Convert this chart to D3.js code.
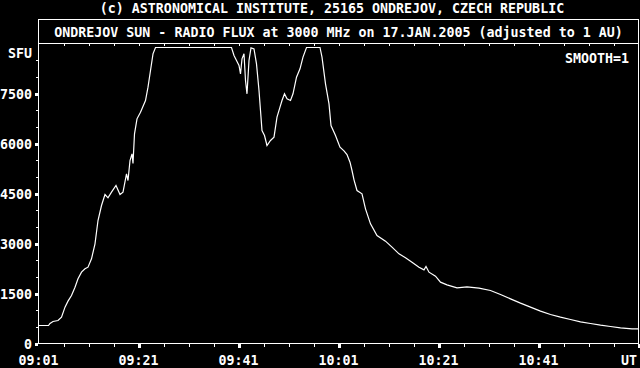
<!DOCTYPE html>
<html>
<head>
<meta charset="utf-8">
<script src="https://cdn.jsdelivr.net/npm/d3@7"></script>
<style>
  body { margin: 0; background: #000; }
  text { font-family: "DejaVu Sans Mono", "Liberation Mono", monospace; font-weight: bold; font-size: 13.3px; fill: #fff; }
</style>
</head>
<body>
<script>
// minutes after 09:01 UT and flux in SFU
var minutes = [0, 2, 2.3, 2.9, 3.9, 4.6, 5.3, 5.9, 6.6, 7.3, 7.9, 8.6, 9.3, 9.9, 10.6, 11.3, 11.9, 12.6, 13.3, 13.9,
  14.6, 15.5, 16.3, 16.9, 17.6, 17.9, 18.3, 18.7, 18.9, 19.2, 19.7, 20.4, 21.4, 21.9, 22.4, 22.9, 23.4, 38.6,
  39.1, 39.6, 40.1, 40.4, 40.7, 41.1, 41.4, 41.7, 42.1, 42.5, 43.1, 43.6, 44.1, 44.4, 44.7, 45.2, 45.7, 46.4,
  47.1, 47.7, 48.3, 48.7, 49.2, 49.7, 50.4, 50.9, 51.6, 52.3, 52.9, 53.6, 56.3, 56.7, 57.4, 58.1, 58.5, 59.4,
  60.3, 61.1, 61.7, 62.3, 62.7, 63.1, 63.7, 64.7, 65.4, 66.4, 67.7, 69.4, 70.7, 72.1, 73.4, 74.7, 76.1, 77.1,
  77.5, 78.1, 79.4, 80.4, 81.7, 83.7, 85.7, 88.1, 90.4, 92.4, 94.4, 96.4, 98.4, 100.4, 102.4, 104.4, 106.4,
  108.4, 110.4, 112.4, 114.4, 116.4, 118.7, 120];
var flux = [540, 540, 600, 660, 690, 790, 1090, 1270, 1440, 1690, 1940, 2140, 2240, 2290, 2540, 2990, 3690, 4140, 4470, 4370,
  4540, 4740, 4470, 4540, 5090, 4890, 5490, 5690, 5400, 6290, 6740, 6940, 7290, 7690, 8190, 8690, 8880, 8880,
  8640, 8490, 8340, 8090, 8540, 8690, 7890, 7490, 8490, 8870, 8840, 8390, 7590, 6990, 6390, 6240, 5940, 6090,
  6190, 6790, 7090, 7290, 7490, 7340, 7290, 7490, 7990, 8240, 8590, 8880, 8880, 8590, 7790, 7190, 6540, 6240,
  5890, 5780, 5670, 5440, 5190, 4910, 4590, 4490, 4040, 3590, 3240, 3070, 2890, 2690, 2570, 2440, 2290, 2210,
  2310, 2140, 2020, 1840, 1760, 1670, 1700, 1660, 1590, 1470, 1340, 1210, 1090, 970, 870, 790, 720,
  650, 600, 550, 510, 470, 440, 440];

var yMajor = [0, 1500, 3000, 4500, 6000, 7500];
var xMajor = [0, 20, 40, 60, 80, 100];
var xLabels = ["09:01", "09:21", "09:41", "10:01", "10:21", "10:41"];

var titleTop = "(c) ASTRONOMICAL INSTITUTE, 25165 ONDREJOV, CZECH REPUBLIC";
var titleBox = "ONDREJOV SUN - RADIO FLUX at 3000 MHz on 17.JAN.2005 (adjusted to 1 AU)";

var svg = d3.select("body").append("svg").attr("width", 640).attr("height", 368)
  .style("background", "#000");

var x = d3.scaleLinear().domain([0, 120]).range([38.5, 638.5]);
var y = d3.scaleLinear().domain([0, 9000]).range([343.5, 43.5]);

//frame and title box
var frame = svg.append("g").attr("shape-rendering", "crispEdges")
  .attr("stroke", "#fff").attr("fill", "none");
frame.append("rect").attr("x", 38.5).attr("y", 19.5).attr("width", 600).attr("height", 324);
frame.append("line").attr("x1", 38.5).attr("x2", 638.5).attr("y1", 43.5).attr("y2", 43.5);

svg.append("text").attr("x", 332).attr("y", 12.5).attr("text-anchor", "middle").text(titleTop);
svg.append("text").attr("x", 338.5).attr("y", 36.5).attr("text-anchor", "middle").text(titleBox);
svg.append("text").attr("x", 629).attr("y", 63).attr("text-anchor", "end").text("SMOOTH=1");

//y axis ticks
function styleAxis(g, w) {
  g.select(".domain").remove();
  g.selectAll(".tick line").attr("stroke", "#fff").attr("stroke-width", w).attr("shape-rendering", "crispEdges");
  g.selectAll(".tick text").remove();
}
svg.append("g").attr("transform", "translate(38,0)")
  .call(d3.axisLeft(y).tickValues(d3.range(0, 9000, 500)).tickSize(2))
  .call(styleAxis, 1);
svg.append("g").attr("transform", "translate(38,0)")
  .call(d3.axisLeft(y).tickValues(yMajor).tickSize(3))
  .call(styleAxis, 3);

svg.selectAll(".ylab").data(yMajor).enter().append("text")
  .attr("class", "ylab").attr("x", 32).attr("y", function(d) { return y(d) + 5; })
  .attr("text-anchor", "end").text(function(d) { return d; });
svg.append("text").attr("x", 32).attr("y", 58).attr("text-anchor", "end").text("SFU");

//x axis ticks
svg.append("g").attr("transform", "translate(0,344)")
  .call(d3.axisBottom(x).tickValues(d3.range(5, 120, 5)).tickSize(3))
  .call(styleAxis, 1);
svg.append("g").attr("transform", "translate(0,344)")
  .call(d3.axisBottom(x).tickValues(xMajor.slice(1).concat([120])).tickSize(4))
  .call(styleAxis, 3);
svg.append("g").attr("transform", "translate(0,44)")
  .call(d3.axisBottom(x).tickValues(d3.range(5, 120, 5)).tickSize(2))
  .call(styleAxis, 1);

svg.selectAll(".xlab").data(xMajor).enter().append("text")
  .attr("class", "xlab").attr("x", function(d) { return x(d); }).attr("y", 365)
  .attr("text-anchor", "middle").text(function(d, i) { return xLabels[i]; });
svg.append("text").attr("x", 637).attr("y", 365).attr("text-anchor", "end").text("UT");

//flux curve
var pts = minutes.map(function(m, i) { return [m, flux[i]]; });
var line = d3.line().x(function(d) { return x(d[0]); }).y(function(d) { return y(d[1]); });
svg.append("path").datum(pts).attr("d", line)
  .attr("fill", "none").attr("stroke", "#fff").attr("stroke-width", 1.2);
</script>
</body>
</html>
